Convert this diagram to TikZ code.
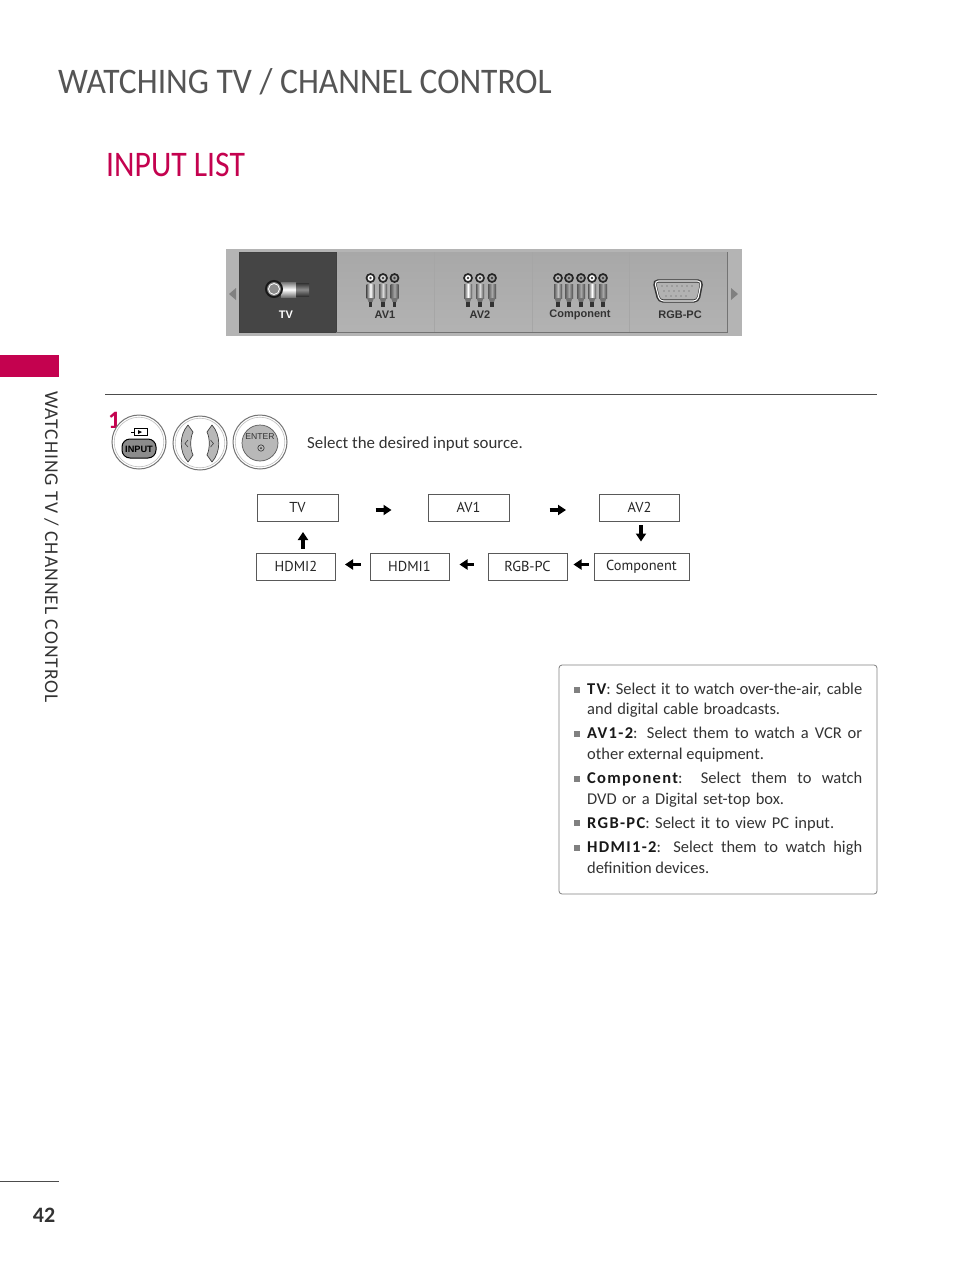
\documentclass[tikz,border=0pt]{standalone}
\usepackage{fontspec}
\setmainfont{Carlito}
\newfontfamily\uifont{Liberation Sans}
\newfontfamily\boxfont{PT Sans}
\usetikzlibrary{arrows.meta,calc}
\definecolor{crim}{HTML}{C4024F}
\definecolor{titlegray}{HTML}{555555}
\definecolor{txt}{HTML}{333333}
\definecolor{panelbg}{HTML}{B4B4B4}
\definecolor{cellbg}{HTML}{A8A8A8}
\definecolor{celldark}{HTML}{454545}
\definecolor{btngray}{HTML}{B8B8B8}
\tikzset{
  flowbox/.style={draw=black!65,line width=1pt,fill=white,minimum height=27pt,inner sep=0pt,font=\boxfont\fontsize{14.4}{16}\selectfont,text=black!85},
  blockarrow/.style={line width=3.6pt,black,-{Triangle[length=8pt,width=10pt]}},
  infotext/.style={anchor=base west,inner sep=0pt,font=\fontsize{16.5}{18}\selectfont,text=txt},
  bulletmark/.style={fill=black!50,minimum size=6pt,inner sep=0pt,anchor=center},
  celltext/.style={font=\uifont\bfseries\fontsize{11}{12}\selectfont,inner sep=0pt,anchor=center},
  btnring/.style={draw=black!55,line width=1pt,fill=white},
}
\newcommand{\rcaplug}[3]{%
  \begin{scope}[shift={(#1,#2)}]
    \draw[line width=1.7pt,black!85,fill=#3] (0,-6) circle (4);
    \fill[black!75] (0,-6) circle (1.4);
    \shade[left color=black!65,right color=black!70,middle color=#3] (-4,0) rectangle (4,14);
    \fill[black!55] (-3.5,14) -- (3.5,14) -- (2,18) -- (-2,18) -- cycle;
    \fill[black!80] (-1.8,18) rectangle (1.8,22.5);
  \end{scope}}
\newcommand{\infoline}[3]{\node[infotext] (#1) at (587,#2) {#3};}
\newcommand{\justline}[4]{\node[infotext] (#1) at (587,#2) {\makebox[#4pt][s]{#3}};}
\newcommand{\term}[1]{\textbf{\addfontfeature{LetterSpace=8}\color{black!90}#1}}
\begin{document}
\begin{tikzpicture}[x=1pt,y=-1pt]
\useasboundingbox (0,0) rectangle (954,1272);
\fill[white] (0,0) rectangle (954,1272);
% titles
\node[anchor=base west,inner sep=0pt,text=titlegray,xscale=.932,font=\fontsize{36}{40}\selectfont] (title) at (58,93) {WATCHING TV / CHANNEL CONTROL};
\node[anchor=base west,inner sep=0pt,text=crim,xscale=.88,font=\fontsize{36}{40}\selectfont] (sub) at (106,176) {INPUT LIST};
% side tab
\fill[crim] (0,355) rectangle (59,377);
\node[rotate=-90,anchor=base west,inner sep=0pt,text=txt,font=\addfontfeature{LetterSpace=5.3}\fontsize{19.5}{22}\selectfont] (side) at (45,391) {WATCHING TV / CHANNEL CONTROL};
\draw[black!70,line width=.8pt] (0,1181) -- (59,1181);
\node[inner sep=0pt,text=txt,font=\bfseries\fontsize{22}{24}\selectfont] (page) at (44,1215) {42};
% input panel
\fill[panelbg] (226,249) rectangle (742,336);
\shade[top color=cellbg,bottom color=cellbg!88!white] (336,252) rectangle (727,332);
\fill[celldark] (239,252) rectangle (336,332);
\draw[black!75,line width=.8pt] (239,252) rectangle (336,332);
\draw[black!55,line width=.6pt] (336,332) -- (727,332) -- (727,252);
\foreach \xx in {434,532,629} \draw[black!35,line width=.7pt] (\xx,252) -- (\xx,332);
\fill[black!50] (229,294) -- (236,288) -- (236,300) -- cycle;
\fill[black!50] (738,294) -- (731,288) -- (731,300) -- cycle;
% TV connector
\shade[top color=black!55,bottom color=black!55,middle color=white] (281,282) rectangle (296,297);
\shade[top color=black!80,bottom color=black!80,middle color=black!45] (296,283) rectangle (309,296);
\draw[line width=2pt,black!90,fill=black!45] (274,289) circle (8);
\draw[line width=.8pt,white,fill=black!45] (274,289) circle (5.5);
\node[celltext,text=white] (ctv) at (286,314.5) {TV};
% AV1, AV2, Component
\rcaplug{370.5}{284}{white}\rcaplug{383}{284}{white!85!black}\rcaplug{394.5}{284}{black!35}
\node[celltext,text=black!80] (cav1) at (385,314.5) {AV1};
\rcaplug{468}{284}{white}\rcaplug{480}{284}{white!85!black}\rcaplug{492}{284}{black!35}
\node[celltext,text=black!80] (cav2) at (480,314.5) {AV2};
\rcaplug{558}{284}{black!25}\rcaplug{569}{284}{black!35}\rcaplug{581}{284}{black!35}\rcaplug{592}{284}{white}\rcaplug{603}{284}{black!35}
\node[celltext,text=black!80] (ccomp) at (580,314.5) {Component};
% VGA connector
\draw[line width=3.2pt,black!80,fill=black!30,rounded corners=4pt] (654,281) -- (702,281) -- (698,301) -- (659,301) -- cycle;
\draw[line width=1.1pt,white,rounded corners=4pt] (654.5,281) -- (701.5,281) -- (697.5,301) -- (659.5,301) -- cycle;
\foreach \xx in {662,667,...,692} \fill[black!65] (\xx,286) circle (.6);
\foreach \xx in {664,669,...,689} \fill[black!65] (\xx,291) circle (.6);
\foreach \xx in {666,671,...,686} \fill[black!65] (\xx,296) circle (.6);
\node[celltext,text=black!80] (crgb) at (680,314.5) {RGB-PC};
% rule
\draw[black!70,line width=.8pt] (105,394) -- (877,394);
% step number
\node[anchor=base west,inner sep=0pt,text=crim,font=\bfseries\fontsize{25}{28}\selectfont] (num) at (108,428) {1};
% buttons
\draw[btnring] (139,442) circle (27);
\draw[black!25,line width=.6pt] (139,442) circle (24.8);
\draw[black,line width=.8pt] (131,432) -- (134,432);
\draw[black,line width=.8pt] (134,428.5) rectangle (147,435.5);
\fill[black] (138,430) -- (142,432) -- (138,434) -- cycle;
\draw[black,line width=1pt,fill=black!45,rounded corners=8pt] (122,439) rectangle (156,458);
\node[inner sep=0pt,font=\uifont\bfseries\fontsize{9.2}{10}\selectfont,text=black] (binput) at (139,449) {INPUT};
\draw[btnring] (200,443) circle (27);
\draw[black!25,line width=.6pt] (200,443) circle (24.8);
\draw[black!75,line width=.7pt,fill=btngray,line join=round] (188,425) -- (193,432) .. controls (190,438) and (190,449) .. (193,455) -- (188,462) .. controls (179,452) and (179,435) .. (188,425) -- cycle;
\draw[black!75,line width=.7pt,fill=btngray,line join=round] (212,425) -- (207,432) .. controls (210,438) and (210,449) .. (207,455) -- (212,462) .. controls (221,452) and (221,435) .. (212,425) -- cycle;
\draw[black!75,line width=.6pt] (188,440) -- (185,443.5) -- (188,447);
\draw[black!75,line width=.6pt] (210.5,440) -- (213.5,443.5) -- (210.5,447);
\draw[btnring] (260,442) circle (27);
\draw[black!25,line width=.6pt] (260,442) circle (24.8);
\draw[black!65,line width=.7pt,fill=btngray] (260,443) circle (18);
\node[inner sep=0pt,font=\uifont\fontsize{8.6}{10}\selectfont,text=black!80] (benter) at (260,437) {ENTER};
\draw[black!80,line width=.6pt] (261,448) circle (3.2);
\fill[black!80] (261,448) circle (1);
\node[anchor=base west,inner sep=0pt,text=txt,font=\fontsize{16.85}{19}\selectfont] (sel) at (307,448) {Select the desired input source.};
% flow boxes
\node[flowbox,minimum width=81pt] (tv) at (297.5,508) {\raisebox{2pt}{TV}};
\node[flowbox,minimum width=81pt] (av1) at (468.5,508) {\raisebox{2pt}{AV1}};
\node[flowbox,minimum width=80pt] (av2) at (639.5,508) {\raisebox{2pt}{AV2}};
\node[flowbox,minimum width=79pt] (hdmi2) at (296,566.5) {HDMI2};
\node[flowbox,minimum width=79pt] (hdmi1) at (409.5,566.5) {HDMI1};
\node[flowbox,minimum width=79pt] (rgb) at (527.5,566.5) {RGB-PC};
\node[flowbox,minimum width=95pt] (comp) at (641.5,566.5) {Component};
% flow arrows
\draw[blockarrow,shorten <=37pt,shorten >=36pt] ([yshift=-2pt]tv.east) -- ([yshift=-2pt]av1.west);
\draw[blockarrow,shorten <=40pt,shorten >=33pt] ([yshift=-2pt]av1.east) -- ([yshift=-2pt]av2.west);
\draw[blockarrow,shorten <=3pt,shorten >=11pt] ([xshift=1.5pt]av2.south) -- ([xshift=-.5pt]comp.north);
\draw[blockarrow,shorten <=5pt,shorten >=6pt] ($(comp.west)+(0,-2)$) -- ($(rgb.east)+(0,-2)$);
\draw[blockarrow,shorten <=14pt,shorten >=10pt] ($(rgb.west)+(0,-2)$) -- ($(hdmi1.east)+(0,-2)$);
\draw[blockarrow,shorten <=9pt,shorten >=9pt] ($(hdmi1.west)+(0,-2)$) -- ($(hdmi2.east)+(0,-2)$);
\draw[blockarrow,shorten <=4pt,shorten >=10pt] ($(hdmi2.north)+(7,0)$) -- ($(tv.south)+(5.5,0)$);
% info box
\draw[black!50,line width=.8pt,rounded corners=3pt] (559,665) rectangle (877,894);
\foreach \yy in {689.5,733.5,778.5,823,847.5} \node[bulletmark] at (577,\yy) {};
\justline{l1}{694}{\term{TV}: Select it to watch over-the-air, cable}{275}
\justline{l2}{714}{and digital cable broadcasts.}{193}
\justline{l3}{738}{\term{AV1-2}: Select them to watch a VCR or}{275}
\infoline{l4}{759}{other external equipment.}
\justline{l5}{783}{\term{Component}: Select them to watch}{275}
\justline{l6}{804}{DVD or a Digital set-top box.}{197}
\justline{l7}{828}{\term{RGB-PC}: Select it to view PC input.}{247}
\justline{l8}{852}{\term{HDMI1-2}: Select them to watch high}{275}
\infoline{l9}{873}{definition devices.}
\end{tikzpicture}
\end{document}
